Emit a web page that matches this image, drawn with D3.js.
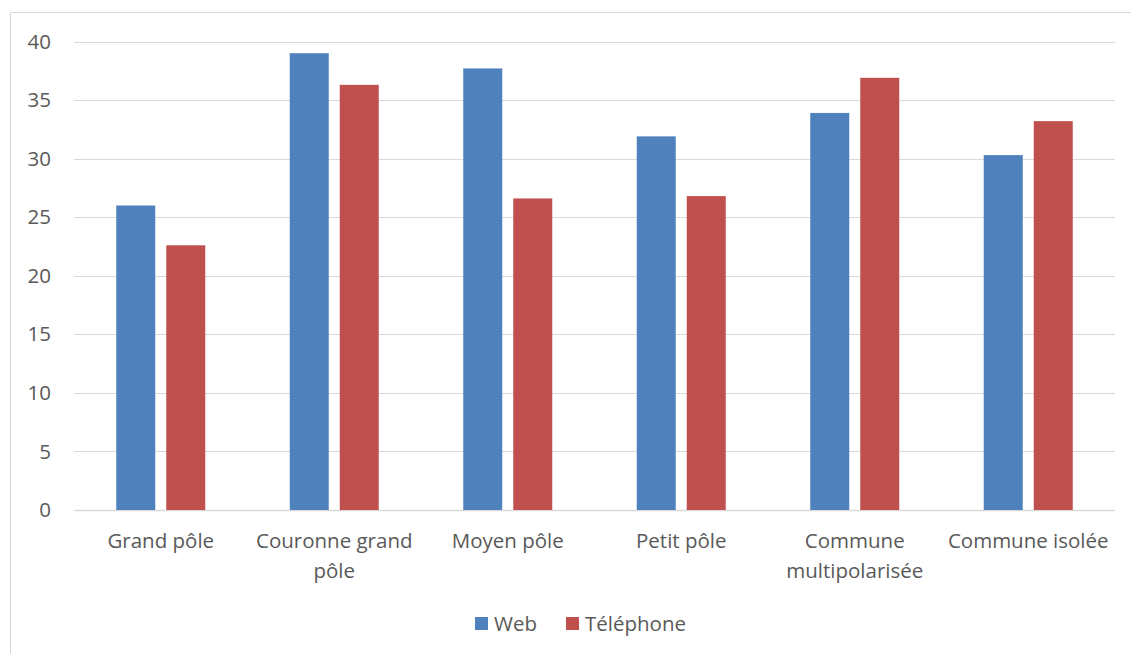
<!DOCTYPE html>
<html><head><meta charset="utf-8">
<script src="https://cdn.jsdelivr.net/npm/d3@7"></script>
<style>
html,body{margin:0;padding:0;background:#fff;}
svg{display:block;font-family:"Open Sans",sans-serif;}
</style></head>
<body>
<svg id="chart" width="1131" height="654"></svg>
<script>
const categories = [["Grand pôle"], ["Couronne grand", "pôle"], ["Moyen pôle"], ["Petit pôle"], ["Commune", "multipolarisée"], ["Commune isolée"]];
const seriesNames = ["Web", "Téléphone"];
const webValues = [26.0, 39.0, 37.7, 31.9, 33.9, 30.3];
const telValues = [22.6, 36.3, 26.6, 26.8, 36.9, 33.2];
const yTicks = [0, 5, 10, 15, 20, 25, 30, 35, 40];
const colors = ["#4F81BD", "#C0504D"];

const svg = d3.select("#chart");
const W = 1131, H = 654;
const plotLeft = 74, plotRight = 1115, plotTop = 41.5, plotBottom = 510;
const textColor = "#595959", gridColor = "#D9D9D9";
const fs = "20.5px";

// outer border
svg.append("path").attr("d", `M10.5,${H} V12.5 H${W}`).attr("fill","none").attr("stroke", gridColor).attr("stroke-width",1);

const x0 = d3.scaleBand().domain(d3.range(categories.length)).range([plotLeft, plotRight]).paddingInner(0).paddingOuter(0);
const bw = x0.bandwidth();
const x1 = d3.scaleBand().domain(d3.range(seriesNames.length)).range([bw*0.2435, bw*0.7565]).paddingInner(0.22).paddingOuter(0);
const y = d3.scaleLinear().domain([0, 40]).range([plotBottom, plotTop]);

// gridlines
svg.append("g").selectAll("line").data(yTicks).join("line")
  .attr("x1", plotLeft).attr("x2", plotRight)
  .attr("y1", d => Math.round(y(d)) + 0.5).attr("y2", d => Math.round(y(d)) + 0.5)
  .attr("stroke", gridColor).attr("stroke-width", d => d === 0 ? 1.5 : 1.2);

// y axis labels
const yAxis = d3.axisLeft(y).tickValues(yTicks).tickSize(0).tickPadding(0);
const ya = svg.append("g").attr("transform", `translate(51,0)`).call(yAxis);
ya.select(".domain").remove();
ya.selectAll("text").attr("fill", textColor).style("font-size",fs).style("font-family","'Open Sans',sans-serif");

// bars
const data = [webValues, telValues];
const groups = svg.append("g").selectAll("g").data(categories.map((c,i)=>i)).join("g")
  .attr("transform", i => `translate(${x0(i)},0)`);
groups.selectAll("rect").data(i => data.map((s,si)=>({si, v:s[i]}))).join("rect")
  .attr("x", d => x1(d.si)).attr("width", x1.bandwidth())
  .attr("y", d => y(d.v)).attr("height", d => y(0) - y(d.v))
  .attr("fill", d => colors[d.si]);

// x labels
const xl = svg.append("g").selectAll("text").data(categories).join("text")
  .attr("x", (d,i) => x0(i) + bw/2).attr("y", 548)
  .attr("text-anchor","middle").attr("fill", textColor).style("font-size",fs);
xl.selectAll("tspan").data(d => d).join("tspan")
  .attr("x", function(){ return this.parentNode.getAttribute("x"); })
  .attr("dy", (d,i) => i === 0 ? 0 : 30).text(d => d);

// legend
const legendItems = [{name: seriesNames[0], c: colors[0], x: 475}, {name: seriesNames[1], c: colors[1], x: 566}];
const lg = svg.append("g").selectAll("g").data(legendItems).join("g")
  .attr("transform", d => `translate(${d.x},617)`);
lg.append("rect").attr("width",13).attr("height",13).attr("fill", d => d.c);
lg.append("text").attr("x",19).attr("y",14).attr("fill",textColor).style("font-size",fs).text(d => d.name);
</script>
</body></html>
